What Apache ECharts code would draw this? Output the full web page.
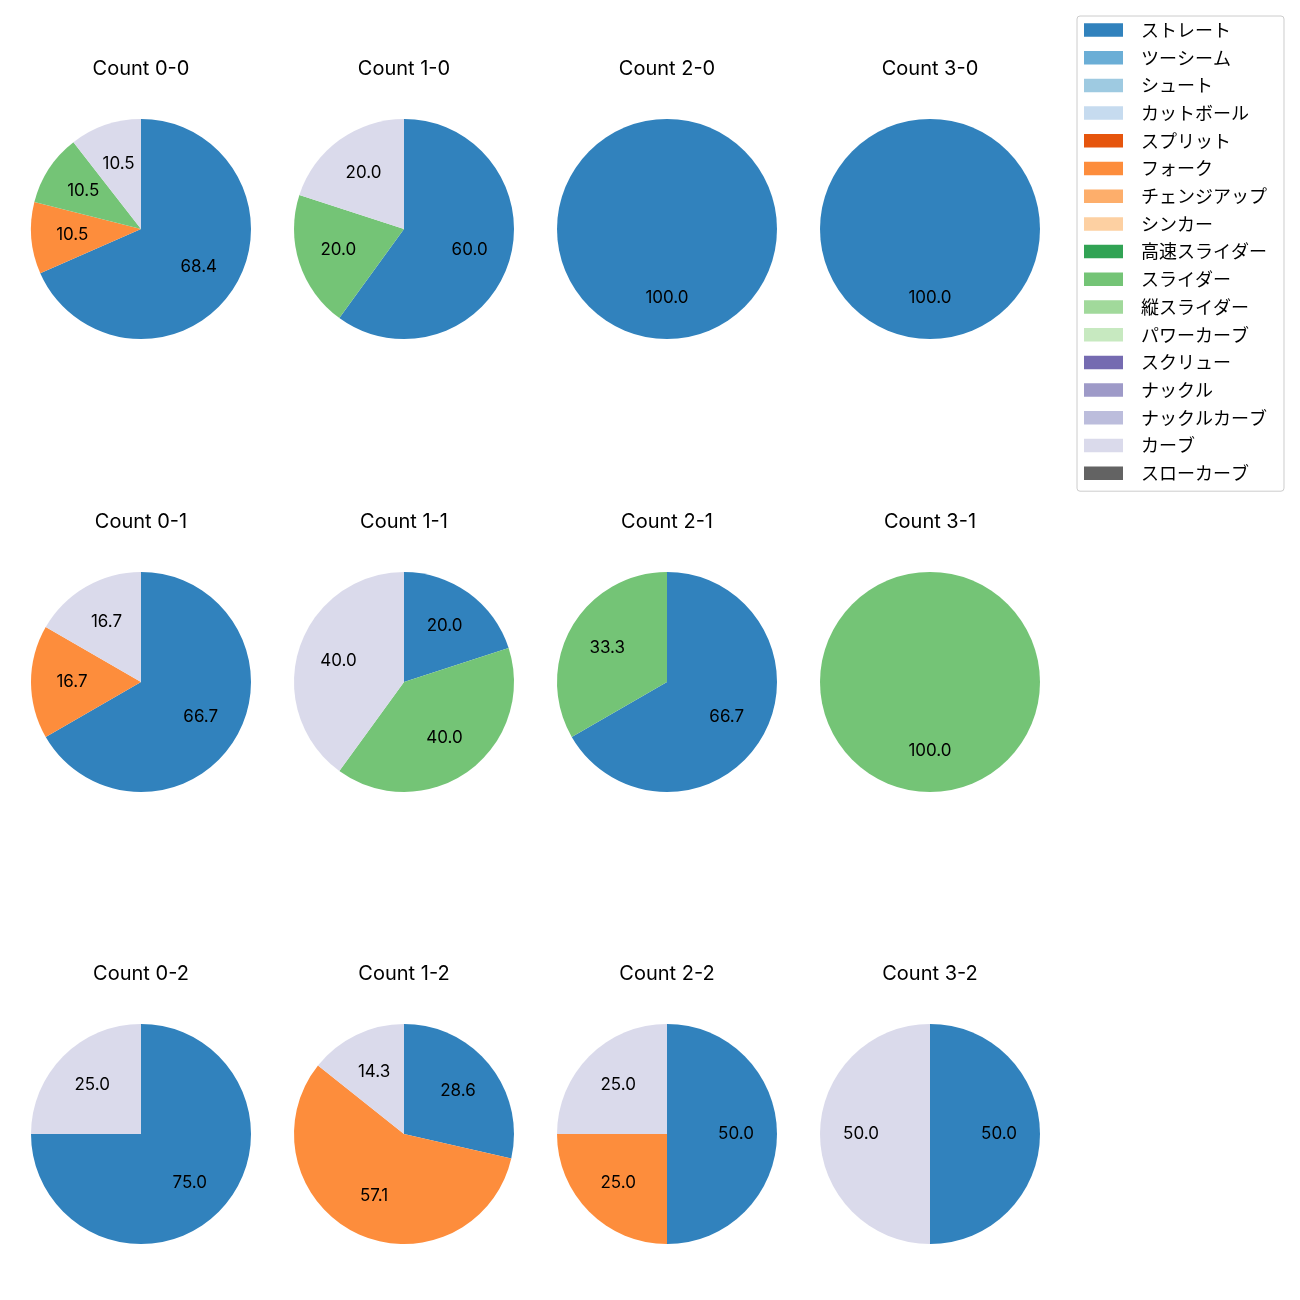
<!DOCTYPE html>
<html>
<head>
<meta charset="utf-8">
<script src="https://cdn.jsdelivr.net/npm/echarts@6/dist/echarts.min.js"></script>
<style>html,body{margin:0;padding:0;background:#fff}#c{width:1300px;height:1300px}</style>
</head>
<body>
<div id="c"></div>
<script>
const pitchTypes = ['ストレート','ツーシーム','シュート','カットボール','スプリット','フォーク','チェンジアップ','シンカー','高速スライダー','スライダー','縦スライダー','パワーカーブ','スクリュー','ナックル','ナックルカーブ','カーブ','スローカーブ'];
const palette = ['#3182bd','#6baed6','#9ecae1','#c6dbef','#e6550d','#fd8d3c','#fdae6b','#fdd0a2','#31a354','#74c476','#a1d99b','#c7e9c0','#756bb1','#9e9ac8','#bcbddc','#dadaeb','#636363'];
const countTitles = ['Count 0-0','Count 1-0','Count 2-0','Count 3-0','Count 0-1','Count 1-1','Count 2-1','Count 3-1','Count 0-2','Count 1-2','Count 2-2','Count 3-2'];
// pitch counts per type, same order as pitchTypes
const count00 = [13,0,0,0,0,2,0,0,0,2,0,0,0,0,0,2,0];
const count10 = [3,0,0,0,0,0,0,0,0,1,0,0,0,0,0,1,0];
const count20 = [1,0,0,0,0,0,0,0,0,0,0,0,0,0,0,0,0];
const count30 = [1,0,0,0,0,0,0,0,0,0,0,0,0,0,0,0,0];
const count01 = [4,0,0,0,0,1,0,0,0,0,0,0,0,0,0,1,0];
const count11 = [1,0,0,0,0,0,0,0,0,2,0,0,0,0,0,2,0];
const count21 = [2,0,0,0,0,0,0,0,0,1,0,0,0,0,0,0,0];
const count31 = [0,0,0,0,0,0,0,0,0,1,0,0,0,0,0,0,0];
const count02 = [3,0,0,0,0,0,0,0,0,0,0,0,0,0,0,1,0];
const count12 = [2,0,0,0,0,4,0,0,0,0,0,0,0,0,0,1,0];
const count22 = [2,0,0,0,0,1,0,0,0,0,0,0,0,0,0,1,0];
const count32 = [1,0,0,0,0,0,0,0,0,0,0,0,0,0,0,1,0];
const allCounts = [count00,count10,count20,count30,count01,count11,count21,count31,count02,count12,count22,count32];

const colX = [141, 404, 667, 930];
const rowY = [229, 682, 1134];
const R = 110;
const LATIN = 'Inter, "Noto Sans CJK JP", sans-serif';
const JP = '"Noto Sans CJK JP", sans-serif';

const titles = [];
const series = [];
allCounts.forEach((vals, k) => {
  const cx = colX[k % 4], cy = rowY[Math.floor(k / 4)];
  const total = vals.reduce((a, b) => a + b, 0);
  titles.push({
    text: countTitles[k], left: cx, top: cy - 170, textAlign: 'center', padding: 0,
    textStyle: { fontFamily: LATIN, fontSize: 20, fontWeight: 'normal', color: '#000' }
  });
  const data = vals.map((v, i) => ({ name: pitchTypes[i], value: v, itemStyle: { color: palette[i] } }));
  series.push({
    type: 'pie', center: [cx, cy], radius: [0, R], startAngle: 90, clockwise: true,
    data: data, label: { show: false }, labelLine: { show: false },
    emphasis: { disabled: true }, silent: true, animation: false
  });
  series.push({
    type: 'pie', center: [cx, cy], radius: [R * 0.2, R], startAngle: 90, clockwise: true,
    data: vals.map((v, i) => ({ name: pitchTypes[i], value: v, itemStyle: { color: 'rgba(0,0,0,0)' } })),
    legendHoverLink: false,
    label: {
      show: true, position: 'inside', fontFamily: LATIN, fontSize: 17, color: '#000',
      formatter: p => p.value > 0 ? (p.value / total * 100).toFixed(1) : ''
    },
    labelLine: { show: false }, emphasis: { disabled: true }, silent: true, animation: false
  });
});

const chart = echarts.init(document.getElementById('c'));
chart.setOption({
  animation: false,
  backgroundColor: '#fff',
  title: titles,
  legend: {
    data: pitchTypes, orient: 'vertical', left: 1077, top: 16,
    itemWidth: 39, itemHeight: 13.5, itemGap: 9.7, icon: 'rect',
    padding: [5, 17, 9, 7], borderColor: '#cccccc', borderWidth: 1, borderRadius: 3,
    selectedMode: false,
    textStyle: { fontFamily: JP, fontSize: 18, color: '#000', lineHeight: 18, padding: [0, 0, 0, 13] }
  },
  series: series
});
</script>
</body>
</html>
